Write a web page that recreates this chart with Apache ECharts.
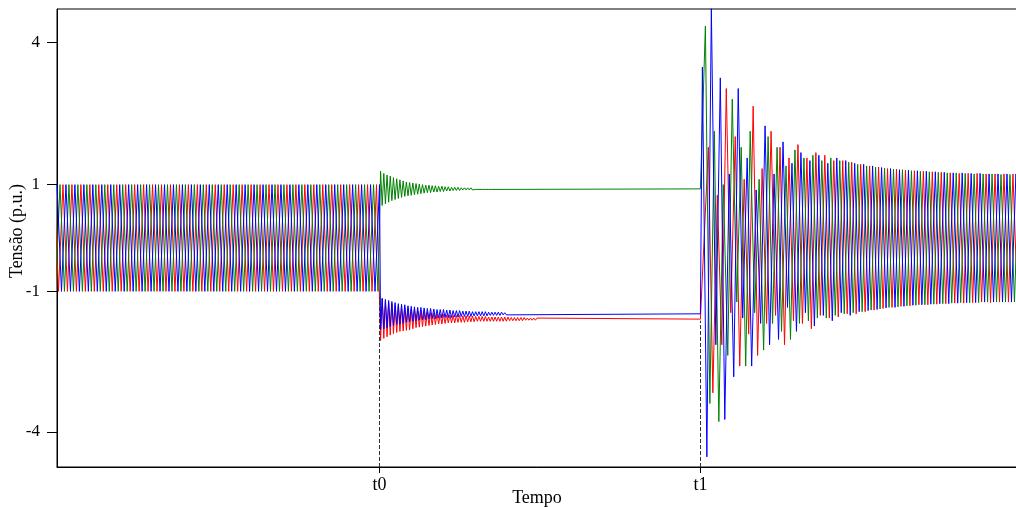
<!DOCTYPE html>
<html><head><meta charset="utf-8">
<script src="https://cdn.jsdelivr.net/npm/echarts@6/dist/echarts.min.js"></script>
<style>html,body{margin:0;padding:0;background:#fff}#c{width:1016px;height:507px}</style>
</head><body><div id="c"></div>
<script>
// time base (s)
const T = 1/60;          // fundamental period
const t0 = 0.6;          // opening instant
const t1 = 1.197;        // reclosing instant
const tMax = 1.786;
const oscHalf = 0.003;   // half period of post-t0 damped oscillation
const oscStart = 0.002;

const yTickValues = [3.67, 1, -1, -3.63];
const yTickLabels = ['4', '1', '-1', '-4'];
const xTickValues = [t0, t1];
const xTickLabels = ['t0', 't1'];

// pre-t0 extrema (alternating peaks), per phase
const bluePre = [1,-1,1,-1,1,-1,1,-1,1,-1, 1,-1,1,-1,1,-1,1,-1,1,-1, 1,-1,1,-1,1,-1,1,-1,1,-1, 1,-1,1,-1,1,-1,1,-1,1,-1, 1,-1,1,-1,1,-1,1,-1,1,-1, 1,-1,1,-1,1,-1,1,-1,1,-1, 1,-1,1,-1,1,-1,1,-1,1,-1, 1,-1,1];
const greenPre = [-1,1,-1,1,-1,1,-1,1,-1,1, -1,1,-1,1,-1,1,-1,1,-1,1, -1,1,-1,1,-1,1,-1,1,-1,1, -1,1,-1,1,-1,1,-1,1,-1,1, -1,1,-1,1,-1,1,-1,1,-1,1, -1,1,-1,1,-1,1,-1,1,-1,1, -1,1,-1,1,-1,1,-1,1,-1,1, -1,1,-1];
const redPre = [1,-1,1,-1,1,-1,1,-1,1,-1, 1,-1,1,-1,1,-1,1,-1,1,-1, 1,-1,1,-1,1,-1,1,-1,1,-1, 1,-1,1,-1,1,-1,1,-1,1,-1, 1,-1,1,-1,1,-1,1,-1,1,-1, 1,-1,1,-1,1,-1,1,-1,1,-1, 1,-1,1,-1,1,-1,1,-1,1,-1, 1,-1,1];
const preStart = { blue: 0, green: -T/6, red: -T/3 };

// post-t0 damped oscillation extrema
const greenPost = [1.25,0.61,1.21,0.64,1.18,0.67,1.16,0.70,1.13,0.72,
 1.11,0.74,1.09,0.76,1.07,0.78,1.05,0.79,1.04,0.80,
 1.03,0.81,1.02,0.82,1.01,0.83,1.00,0.84,0.99,0.85,
 0.99,0.85,0.98,0.86,0.98,0.86,0.97,0.87,0.97,0.87,
 0.96,0.88,0.96,0.88,0.95,0.89,0.95,0.89,0.95,0.89,
 0.94,0.90,0.94,0.90,0.94,0.90,0.94,0.90,0.93,0.91,
 0.93,0.91,0.93,0.91,0.93,0.91,0.93,0.91,0.93,0.91];
const bluePost = [-1.72,-1.13,-1.70,-1.15,-1.68,-1.17,-1.66,-1.19,-1.64,-1.21,
 -1.62,-1.23,-1.61,-1.24,-1.60,-1.25,-1.58,-1.27,-1.57,-1.28,
 -1.56,-1.29,-1.55,-1.30,-1.54,-1.30,-1.53,-1.31,-1.53,-1.32,
 -1.52,-1.32,-1.51,-1.33,-1.51,-1.34,-1.50,-1.34,-1.50,-1.34,
 -1.49,-1.35,-1.49,-1.35,-1.49,-1.36,-1.48,-1.36,-1.48,-1.36,
 -1.47,-1.37,-1.47,-1.37,-1.47,-1.37,-1.47,-1.38,-1.46,-1.38,
 -1.46,-1.38,-1.46,-1.38,-1.46,-1.38,-1.46,-1.39,-1.45,-1.39,
 -1.45,-1.39,-1.45,-1.39,-1.45,-1.39,-1.44,-1.40,-1.44,-1.41];
const redPost = [-1.92,-1.14,-1.88,-1.18,-1.85,-1.21,-1.82,-1.23,-1.79,-1.26,
 -1.77,-1.28,-1.75,-1.29,-1.74,-1.30,-1.73,-1.31,-1.72,-1.33,
 -1.70,-1.35,-1.68,-1.36,-1.67,-1.37,-1.66,-1.38,-1.65,-1.39,
 -1.64,-1.40,-1.63,-1.41,-1.62,-1.42,-1.61,-1.43,-1.61,-1.43,
 -1.60,-1.44,-1.59,-1.44,-1.59,-1.45,-1.59,-1.45,-1.58,-1.45,
 -1.58,-1.46,-1.58,-1.46,-1.57,-1.46,-1.57,-1.46,-1.57,-1.47,
 -1.56,-1.47,-1.56,-1.47,-1.56,-1.47,-1.56,-1.48,-1.56,-1.48,
 -1.56,-1.48,-1.56,-1.48,-1.56,-1.48,-1.56,-1.48,-1.56,-1.48,
 -1.55,-1.49,-1.55,-1.49,-1.55,-1.49,-1.55,-1.49,-1.55,-1.49,
 -1.54,-1.50,-1.54,-1.50,-1.54,-1.50,-1.54,-1.50];

// steady (open-phase) levels between t0 and t1
const greenDC = 0.92, blueDC = -1.42, redDC = -1.52;

// post-t1 extrema
const bluePost1 = [3.2,-4.1,4.3,-2.0,3.0,-3.4,1.2,-2.6,2.8,-1.5,
 1.5,-2.4,0.9,-1.6,2.1,-2.0,1.2,-1.9,1.8,-1.3,
 1.4,-1.75,1.6,-1.4,1.45,-1.65,1.55,-1.45,1.4,-1.55,
 1.5,-1.4,1.45,-1.45,1.4,-1.38,1.38,-1.36,1.35,-1.34,
 1.32,-1.31,1.3,-1.3,1.28,-1.28,1.27,-1.26,1.26,-1.25,
 1.25,-1.24,1.24,-1.23,1.23,-1.23,1.22,-1.22,1.22,-1.21,
 1.21,-1.21,1.21,-1.2,1.2,-1.2,1.2,-1.2,1.2,-1.2,1.2,-1.2];
const greenPost1 = [3.97,-3.1,2.0,-3.44,1.0,-2.2,2.6,-1.2,1.7,-2.4,
 2.0,-1.4,1.1,-2.1,1.9,-1.6,1.7,-1.75,1.35,-1.9,
 1.65,-1.6,1.5,-1.55,1.55,-1.5,1.45,-1.5,1.5,-1.45,
 1.45,-1.42,1.42,-1.4,1.38,-1.38,1.35,-1.35,1.33,-1.33,
 1.31,-1.3,1.29,-1.29,1.28,-1.27,1.26,-1.26,1.25,-1.25,
 1.24,-1.24,1.23,-1.23,1.22,-1.22,1.22,-1.21,1.21,-1.21,
 1.2,-1.21,1.2,-1.2,1.2,-1.2,1.19,-1.2,1.19,-1.2,1.19,-1.2];
const redPost1 = [1.7,-2.9,0.8,-2.0,2.8,-1.4,1.9,-2.4,1.1,-1.8,
 2.47,-2.2,1.3,-1.6,2.0,-1.45,1.7,-2.0,1.5,-1.55,
 1.75,-1.6,1.5,-1.7,1.6,-1.45,1.55,-1.5,1.45,-1.48,
 1.45,-1.42,1.42,-1.42,1.38,-1.38,1.35,-1.35,1.33,-1.32,
 1.3,-1.3,1.29,-1.28,1.27,-1.27,1.26,-1.25,1.25,-1.25,
 1.24,-1.24,1.23,-1.23,1.22,-1.22,1.21,-1.22,1.21,-1.21,
 1.21,-1.2,1.2,-1.21,1.2,-1.2,1.2,-1.2,1.2,-1.2,1.2,-1.2];
const post1Offset = { blue: 0.0037, green: 0.0037 + T/3, red: 0.0037 + 2*T/3 };

// dashed markers: top ends
const t0MarkTop = -1.1, t1MarkTop = -1.55;

function build(pre, pStart, post, dc, post1, off) {
  const d = [];
  pre.forEach((v, k) => d.push([pStart + k * T / 2, v]));
  post.forEach((v, k) => d.push([t0 + oscStart + k * oscHalf, v]));
  d.push([t1, dc]);
  post1.forEach((v, k) => d.push([t1 + off + k * T / 2, v]));
  return d;
}

const yMin = -4.29, yMax = 4.29;
const serif = "'Liberation Serif', 'DejaVu Serif', serif";

function nearestLabel(vals, labels, v) {
  let bi = 0;
  vals.forEach((x, i) => { if (Math.abs(x - v) < Math.abs(vals[bi] - v)) bi = i; });
  return labels[bi];
}

const chart = echarts.init(document.getElementById('c'), null, { renderer: 'canvas' });
const lineBase = { type: 'line', showSymbol: false, symbol: 'none', animation: false, silent: true, clip: true };
chart.setOption({
  animation: false,
  grid: { left: 57, top: 9, right: -1, bottom: 40, containLabel: false, outerBoundsMode: 'none',
    show: true, borderColor: '#000', borderWidth: 1 },
  xAxis: {
    type: 'value', min: 0, max: tMax,
    axisLine: { show: true, onZero: false, lineStyle: { color: '#000', width: 1 } },
    axisTick: { show: true, customValues: xTickValues, length: 6, lineStyle: { color: '#000' } },
    axisLabel: { show: true, customValues: xTickValues, margin: 9, color: '#000', fontFamily: serif, fontSize: 18,
      formatter: v => nearestLabel(xTickValues, xTickLabels, v) },
    splitLine: { show: false },
    name: 'Tempo', nameLocation: 'middle', nameGap: 22, nameMoveOverlap: false,
    nameTextStyle: { color: '#000', fontFamily: serif, fontSize: 18 }
  },
  yAxis: {
    type: 'value', min: yMin, max: yMax,
    axisLine: { show: true, onZero: false, lineStyle: { color: '#000', width: 1 } },
    axisTick: { show: true, customValues: yTickValues, length: 10, lineStyle: { color: '#000' } },
    axisLabel: { show: true, customValues: yTickValues, margin: 17, color: '#000', fontFamily: serif, fontSize: 17,
      formatter: v => nearestLabel(yTickValues, yTickLabels, v) },
    splitLine: { show: false },
    name: 'Tensão (p.u.)', nameLocation: 'middle', nameGap: 31, nameMoveOverlap: false,
    nameTextStyle: { color: '#000', fontFamily: serif, fontSize: 18, padding: [0, 0, 0, 14] }
  },
  series: [
    Object.assign({}, lineBase, {
      name: 'C', data: build(redPre, preStart.red, redPost, redDC, redPost1, post1Offset.red),
      lineStyle: { color: '#ff0000', width: 1 },
      markLine: {
        silent: true, animation: false, symbol: ['none', 'none'], label: { show: false },
        lineStyle: { type: [4, 2], color: '#333', width: 1 },
        data: [
          [{ coord: [t0, yMin] }, { coord: [t0, t0MarkTop] }],
          [{ coord: [t1, yMin] }, { coord: [t1, t1MarkTop] }]
        ]
      }
    }),
    Object.assign({}, lineBase, {
      name: 'B', data: build(greenPre, preStart.green, greenPost, greenDC, greenPost1, post1Offset.green),
      lineStyle: { color: '#008000', width: 1 }
    }),
    Object.assign({}, lineBase, {
      name: 'A', data: build(bluePre, preStart.blue, bluePost, blueDC, bluePost1, post1Offset.blue),
      lineStyle: { color: '#0000ff', width: 1 }
    })
  ]
});
</script></body></html>
